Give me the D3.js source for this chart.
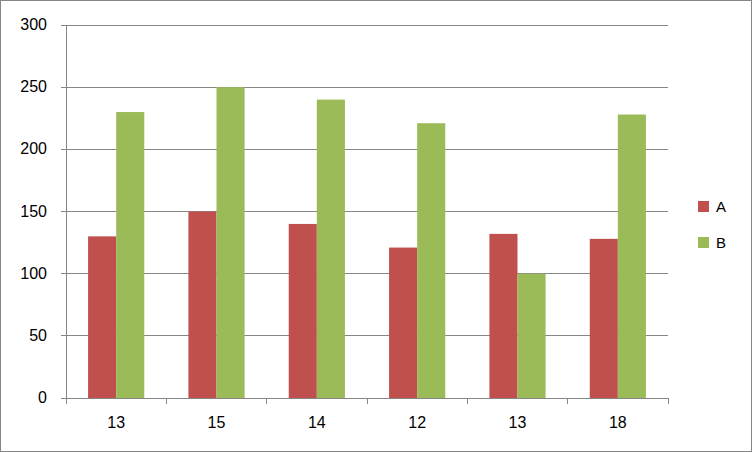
<!DOCTYPE html>
<html><head><meta charset="utf-8">
<script src="https://cdn.jsdelivr.net/npm/d3@7"></script>
<style>body{margin:0;background:#fff}</style></head>
<body><svg id="c" width="752" height="452"></svg>
<script>
const categories = ["13","15","14","12","13","18"];
const seriesNames = ["A","B"];
const seriesA = [130,150,140,121,132,128];
const seriesB = [230,250,240,221,100,228];
const yTicks = [0,50,100,150,200,250,300];
const colors = ["#C0504D","#9BBB59"];

const svg = d3.select("#c");
const font = "'Liberation Sans', Arial, sans-serif";
svg.append("rect").attr("x",0.5).attr("y",0.5).attr("width",751).attr("height",451)
  .attr("fill","#fff").attr("stroke","#868686");
const L=66,R=668,T=25,B=398;
const x = d3.scaleBand().domain(d3.range(categories.length)).range([L,R]);
const y = d3.scaleLinear().domain([0,300]).range([B,T]);
const g = svg.append("g");
yTicks.forEach(t=>{
  g.append("line").attr("x1",L).attr("x2",R).attr("y1",y(t)).attr("y2",y(t))
   .attr("stroke",t===0?"#868686":"#868686").attr("stroke-width",1).attr("shape-rendering","crispEdges");
  g.append("text").attr("x",L-19).attr("y",y(t)+5).attr("text-anchor","end")
   .attr("font-family",font).attr("font-size",16).text(t);
});
g.append("line").attr("x1",L).attr("x2",L).attr("y1",T).attr("y2",B+5).attr("stroke","#868686").attr("shape-rendering","crispEdges");
yTicks.forEach(t=>g.append("line").attr("x1",L-5).attr("x2",L).attr("y1",y(t)).attr("y2",y(t)).attr("stroke","#868686").attr("shape-rendering","crispEdges"));
d3.range(categories.length+1).forEach(i=>{
  const xx = L + i*x.step();
  g.append("line").attr("x1",xx).attr("x2",xx).attr("y1",B).attr("y2",B+6).attr("stroke","#868686").attr("shape-rendering","crispEdges");
});
const bw = x.bandwidth()*0.28;
[seriesA,seriesB].forEach((s,si)=>{
  g.selectAll(null).data(s).enter().append("rect")
   .attr("x",(d,i)=>x(i)+x.bandwidth()/2-bw+si*bw).attr("width",bw)
   .attr("y",d=>y(d)).attr("height",d=>B-y(d)).attr("fill",colors[si]);
});
categories.forEach((c,i)=>g.append("text").attr("x",x(i)+x.bandwidth()/2).attr("y",B+30)
  .attr("text-anchor","middle").attr("font-family",font).attr("font-size",16).text(c));
seriesNames.forEach((n,i)=>{
  const yy=207+i*36;
  g.append("rect").attr("x",698).attr("y",yy-6).attr("width",11).attr("height",11).attr("fill",colors[i]);
  g.append("text").attr("x",716).attr("y",yy+5).attr("font-family",font).attr("font-size",15).text(n);
});
</script></body></html>
